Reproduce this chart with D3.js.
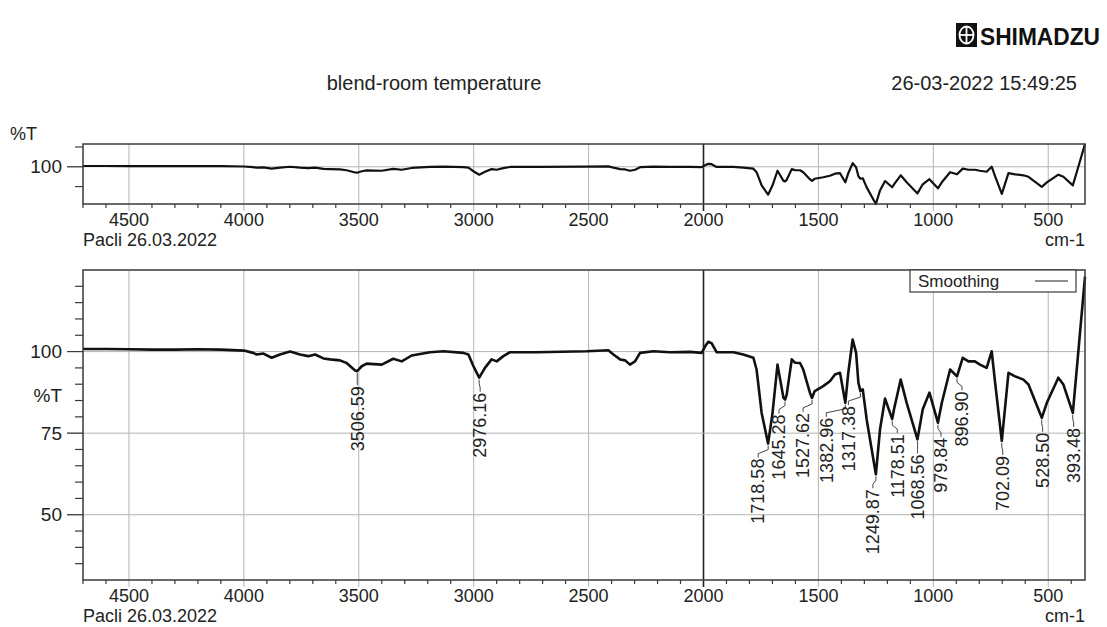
<!DOCTYPE html>
<html>
<head>
<meta charset="utf-8">
<script src="https://cdn.jsdelivr.net/npm/d3@7"></script>
<style>
  html, body { margin: 0; padding: 0; background: #fff; }
  svg { display: block; }
  text { font-family: "Liberation Sans", Arial, sans-serif; fill: #222; }
</style>
</head>
<body>
<svg id="chart" width="1107" height="627"></svg>
<script>
// ---------------- data ----------------
const wavenumbers = [4700, 4600, 4500, 4400, 4300, 4200, 4100, 4000, 3960, 3944, 3915, 3879, 3843, 3799, 3756, 3720, 3690, 3654, 3625, 3582, 3553, 3516, 3507, 3487, 3466, 3400, 3350, 3313, 3270, 3190, 3132, 3045, 3023, 3001, 2976, 2951, 2922, 2900, 2871, 2842, 2726, 2508, 2414, 2392, 2363, 2341, 2320, 2298, 2276, 2218, 2146, 2059, 2008, 1993, 1979, 1965, 1943, 1870, 1827, 1783, 1769, 1747, 1719, 1700, 1678, 1652, 1645, 1638, 1616, 1602, 1580, 1566, 1537, 1528, 1516, 1479, 1450, 1428, 1406, 1383, 1370, 1351, 1336, 1326, 1317, 1307, 1290, 1250, 1232, 1210, 1179, 1171, 1142, 1116, 1069, 1046, 1017, 980, 963, 927, 897, 872, 847, 819, 797, 768, 746, 731, 702, 673, 644, 608, 586, 528, 506, 456, 434, 393, 376, 340];
const transmittance = [100.8, 100.8, 100.7, 100.6, 100.6, 100.7, 100.6, 100.3, 99.6, 99.1, 99.4, 98.1, 99.1, 100.0, 99.1, 98.6, 99.1, 97.9, 97.6, 97.3, 96.5, 94.2, 94.0, 95.5, 96.3, 96.0, 97.8, 97.0, 98.8, 99.8, 100.1, 99.6, 99.1, 95.5, 92.0, 95.0, 97.6, 97.0, 98.6, 99.8, 99.8, 100.1, 100.4, 99.1, 97.6, 97.3, 96.0, 97.0, 99.6, 100.1, 99.8, 99.9, 99.6, 101.6, 103.0, 102.6, 99.8, 99.8, 99.1, 98.1, 94.5, 81.2, 71.8, 81.0, 96.0, 85.8, 85.3, 86.8, 97.6, 96.6, 96.5, 94.5, 87.4, 85.8, 87.9, 89.4, 90.9, 93.0, 93.5, 84.3, 93.5, 103.7, 99.6, 90.4, 87.9, 88.4, 79.2, 62.4, 76.1, 85.6, 79.3, 82.3, 91.4, 84.3, 73.1, 82.3, 87.4, 78.2, 84.3, 94.5, 92.4, 98.1, 97.0, 97.0, 96.0, 95.0, 100.1, 90.4, 72.6, 93.5, 92.4, 91.4, 89.9, 79.7, 84.3, 92.0, 89.9, 81.2, 94.5, 123.0];

const peakWavenumbers = [3506.59, 2976.16, 1718.58, 1645.28, 1527.62, 1382.96, 1317.38, 1249.87, 1178.51, 1068.56, 979.84, 896.90, 702.09, 528.50, 393.48];
const peakLabels = ["3506.59", "2976.16", "1718.58", "1645.28", "1527.62", "1382.96", "1317.38", "1249.87", "1178.51", "1068.56", "979.84", "896.90", "702.09", "528.50", "393.48"];

const xTickValues = [4500, 4000, 3500, 3000, 2500, 2000, 1500, 1000, 500];
const mainYTickValues = [50, 75, 100];
const overviewYTickValues = [100];

const titleText = "blend-room temperature";
const dateText = "26-03-2022 15:49:25";
const sampleText = "Pacli 26.03.2022";
const unitText = "cm-1";
const yLabelText = "%T";
const legendText = "Smoothing";
const brandText = "SHIMADZU";

// ---------------- layout ----------------
const labelShift = [0, 1, -10, -6, -9, -19, -12, -3, 5, 0, 3, 5, 1, 1, 1];
const spectrum = wavenumbers.map((w, i) => ({ w, t: transmittance[i] }));

const svg = d3.select("#chart");
const left = 83, right = 1085;
const x = d3.scaleLinear().domain([4700, 340]).range([left, right]);

const main = { top: 270, bottom: 580 };
const over = { top: 144, bottom: 204 };
const yMain = d3.scaleLinear().domain([30, 125]).range([main.bottom, main.top]);
const yOver = d3.scaleLinear().domain(d3.extent(transmittance)).range([over.bottom, over.top]);

const gridColor = "#b4b4b4";
const frameColor = "#3a3a3a";

// header
svg.append("text").attr("x", 434).attr("y", 90).attr("text-anchor", "middle")
  .style("font-size", "20px").text(titleText);
svg.append("text").attr("x", 1077).attr("y", 90).attr("text-anchor", "end")
  .style("font-size", "20px").text(dateText);

// logo
const logo = svg.append("g").attr("transform", "translate(956,23)");
logo.append("rect").attr("width", 21).attr("height", 24).attr("fill", "#111");
logo.append("ellipse").attr("cx", 10.5).attr("cy", 12).attr("rx", 7).attr("ry", 8.5)
  .attr("fill", "none").attr("stroke", "#fff").attr("stroke-width", 1.8);
logo.append("line").attr("x1", 3.5).attr("x2", 17.5).attr("y1", 12).attr("y2", 12).attr("stroke", "#fff").attr("stroke-width", 1.8);
logo.append("line").attr("x1", 10.5).attr("x2", 10.5).attr("y1", 3.5).attr("y2", 20.5).attr("stroke", "#fff").attr("stroke-width", 1.8);
svg.append("text").attr("x", 980).attr("y", 45).style("font-size", "24px").style("font-weight", "bold")
  .style("fill", "#111").attr("textLength", 120).attr("lengthAdjust", "spacingAndGlyphs").text(brandText);

function drawPanel(box, y, yTicks, minorY, isMain) {
  const g = svg.append("g");
  // vertical grid
  g.selectAll(".vg").data(xTickValues).enter().append("line")
    .attr("x1", d => x(d)).attr("x2", d => x(d))
    .attr("y1", box.top).attr("y2", box.bottom + 7)
    .attr("stroke", d => d === 2000 ? "#222" : gridColor)
    .attr("stroke-width", d => d === 2000 ? 1.6 : 1);
  // horizontal grid
  g.selectAll(".hg").data(yTicks).enter().append("line")
    .attr("x1", left - 16).attr("x2", right)
    .attr("y1", d => y(d)).attr("y2", d => y(d))
    .attr("stroke", gridColor).attr("stroke-width", 1);
  // major y ticks
  g.selectAll(".myt").data(yTicks).enter().append("line")
    .attr("x1", left - 16).attr("x2", left)
    .attr("y1", d => y(d)).attr("y2", d => y(d))
    .attr("stroke", frameColor).attr("stroke-width", 1.2);
  // minor y ticks
  g.selectAll(".mnyt").data(minorY).enter().append("line")
    .attr("x1", left - 8).attr("x2", left)
    .attr("y1", d => y(d)).attr("y2", d => y(d))
    .attr("stroke", frameColor).attr("stroke-width", 1.2);
  // x minor ticks
  const minorX = d3.range(4700, 340, -100).filter(d => d % 500 !== 0);
  g.selectAll(".mnxt").data(minorX).enter().append("line")
    .attr("x1", d => x(d)).attr("x2", d => x(d))
    .attr("y1", box.bottom).attr("y2", box.bottom + 4)
    .attr("stroke", frameColor).attr("stroke-width", 1.2);
  // y labels
  g.selectAll(".yl").data(yTicks).enter().append("text")
    .attr("x", 62).attr("y", d => y(d)).attr("dy", "0.35em")
    .attr("text-anchor", "end").style("font-size", "19px")
    .text(d => d);
  // x labels
  g.selectAll(".xl").data(xTickValues).enter().append("text")
    .attr("x", d => x(d)).attr("y", box.bottom + 22)
    .attr("text-anchor", "middle").style("font-size", "18px")
    .text(d => d);
  g.append("text").attr("x", left).attr("y", box.bottom + 42).style("font-size", "18px").text(sampleText);
  g.append("text").attr("x", right).attr("y", box.bottom + 42).attr("text-anchor", "end").style("font-size", "18px").text(unitText);
  // spectrum line
  const line = d3.line().x(d => x(d.w)).y(d => y(d.t)).curve(d3.curveLinear);
  g.append("path").datum(spectrum).attr("d", line)
    .attr("fill", "none").attr("stroke", "#111")
    .attr("stroke-width", isMain ? 2.6 : 2.2).attr("stroke-linejoin", "round");
  // frame
  g.append("rect").attr("x", left).attr("y", box.top)
    .attr("width", right - left).attr("height", box.bottom - box.top)
    .attr("fill", "none").attr("stroke", frameColor).attr("stroke-width", 1.5);
  return g;
}

drawPanel(over, yOver, overviewYTickValues, [80, 120], false);
svg.append("text").attr("x", 10).attr("y", 140).style("font-size", "18px").text(yLabelText);

const mainMinor = d3.range(35, 125, 5).filter(d => d % 25 !== 0);
const gMain = drawPanel(main, yMain, mainYTickValues, mainMinor, true);
svg.append("text").attr("x", 62).attr("y", 395).attr("dy", "0.35em").attr("text-anchor", "end")
  .style("font-size", "19px").text(yLabelText);

// peak labels
const nearest = w => spectrum.reduce((a, b) => Math.abs(b.w - w) < Math.abs(a.w - w) ? b : a);
peakWavenumbers.forEach((w, i) => {
  const p = nearest(w);
  const px = x(w), py = yMain(p.t);
  const lx = px + labelShift[i], ly = py + 14;
  gMain.append("path")
    .attr("d", `M${px},${py + 2} L${px},${py + 6} L${lx},${ly - 4} L${lx},${ly}`)
    .attr("fill", "none").attr("stroke", "#444").attr("stroke-width", 1);
  gMain.append("text")
    .attr("transform", `translate(${lx},${ly + 1}) rotate(-90)`)
    .attr("text-anchor", "end").attr("dy", "0.35em")
    .style("font-size", "18px").text(peakLabels[i]);
});

// legend
const lg = svg.append("g");
lg.append("rect").attr("x", 910).attr("y", main.top).attr("width", 166).attr("height", 22)
  .attr("fill", "#fff").attr("stroke", frameColor).attr("stroke-width", 1.2);
lg.append("text").attr("x", 918).attr("y", main.top + 17).style("font-size", "17px").text(legendText);
lg.append("line").attr("x1", 1035).attr("x2", 1068).attr("y1", main.top + 11).attr("y2", main.top + 11)
  .attr("stroke", "#222").attr("stroke-width", 1.2);
</script>
</body>
</html>
